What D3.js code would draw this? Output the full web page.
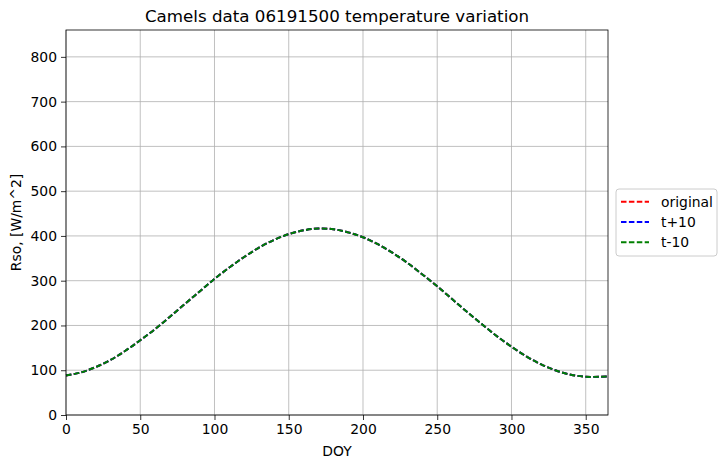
<!DOCTYPE html>
<html lang="en">
  <head>
    <meta charset="UTF-8" />
    <title>Camels data 06191500 temperature variation</title>
    <style>
      body { margin: 0; background: #fff; }
      svg { font-family: "DejaVu Sans", sans-serif; }
    </style>
  </head>
  <body>
    <svg width="727" height="468"></svg>

    <script src="https://d3js.org/d3.v7.min.js"></script>
    <script>
      (function () {
        "use strict";

        // day of year
        var doy = [0, 10, 20, 30, 40, 50, 60, 70, 80, 90, 100, 110, 120, 130, 140, 150,
          160, 170, 180, 190, 200, 210, 220, 230, 240, 250, 260, 270, 280, 290, 300,
          310, 320, 330, 340, 350, 360, 365];

        // Rso [W/m^2] (the three series overlap)
        var rsoOriginal = [88, 95, 107, 123, 143.5, 167, 192, 219.5, 248, 276, 304, 329.5,
          353, 374, 391, 404, 412.5, 416.5, 415, 408, 397, 381.5, 362, 339.5, 314, 287.5,
          259, 230.5, 203, 176.5, 152.5, 131, 113, 99.5, 90, 85.5, 85.5, 86];
        var rsoPlus10 = rsoOriginal;
        var rsoMinus10 = rsoOriginal;

        var seriesNames = ["original", "t+10", "t-10"];
        var seriesColors = ["#ff0000", "#0000ff", "#008000"];
        var seriesValues = [rsoOriginal, rsoPlus10, rsoMinus10];

        var xTicks = [0, 50, 100, 150, 200, 250, 300, 350];
        var yTicks = [0, 100, 200, 300, 400, 500, 600, 700, 800];

        var left = 66, right = 608, top = 30, bottom = 415;

        var svg = d3.select("svg");

        var x = d3.scaleLinear().domain([0, 365]).range([left, right]);
        var y = d3.scaleLinear().domain([0, 860]).range([bottom, top]);

        // grid
        var grid = svg.append("g");
        grid.selectAll(".gx").data(xTicks).enter().append("line")
          .attr("x1", function (d) { return x(d); })
          .attr("x2", function (d) { return x(d); })
          .attr("y1", top).attr("y2", bottom)
          .attr("stroke", "#b0b0b0").attr("stroke-width", 0.8);
        grid.selectAll(".gy").data(yTicks).enter().append("line")
          .attr("y1", function (d) { return y(d); })
          .attr("y2", function (d) { return y(d); })
          .attr("x1", left).attr("x2", right)
          .attr("stroke", "#b0b0b0").attr("stroke-width", 0.8);

        // lines
        var line = d3.line()
          .x(function (d) { return x(d[0]); })
          .y(function (d) { return y(d[1]); })
          .curve(d3.curveCatmullRom);

        seriesValues.forEach(function (vals, i) {
          svg.append("path")
            .datum(d3.zip(doy, vals))
            .attr("d", line)
            .attr("fill", "none")
            .attr("stroke", seriesColors[i])
            .attr("stroke-width", 2)
            .attr("stroke-dasharray", "5.5,2.4");
        });

        // axes
        var xAxis = svg.append("g")
          .attr("transform", "translate(0," + bottom + ")")
          .call(d3.axisBottom(x).tickValues(xTicks).tickSize(5).tickPadding(4));
        var yAxis = svg.append("g")
          .attr("transform", "translate(" + left + ",0)")
          .call(d3.axisLeft(y).tickValues(yTicks).tickSize(5).tickPadding(4));
        [xAxis, yAxis].forEach(function (a) {
          a.select(".domain").remove();
          a.selectAll("text").attr("font-size", 13.9).attr("fill", "#000")
            .attr("font-family", "DejaVu Sans");
          a.selectAll("line").attr("stroke", "#000").attr("stroke-width", 0.8);
        });

        // frame
        svg.append("rect")
          .attr("x", left).attr("y", top)
          .attr("width", right - left).attr("height", bottom - top)
          .attr("fill", "none").attr("stroke", "#000").attr("stroke-width", 0.8);

        // title and labels
        svg.append("text")
          .attr("x", (left + right) / 2).attr("y", 22)
          .attr("text-anchor", "middle").attr("font-size", 16.7)
          .text("Camels data 06191500 temperature variation");
        svg.append("text")
          .attr("x", (left + right) / 2).attr("y", 456)
          .attr("text-anchor", "middle").attr("font-size", 13.9)
          .text("DOY");
        svg.append("text")
          .attr("transform", "translate(21," + (top + bottom) / 2 + ") rotate(-90)")
          .attr("text-anchor", "middle").attr("font-size", 13.9)
          .text("Rso, [W/m^2]");

        // legend
        var lg = svg.append("g").attr("transform", "translate(616,189)");
        lg.append("rect")
          .attr("width", 101).attr("height", 67).attr("rx", 3)
          .attr("fill", "#fff").attr("fill-opacity", 0.8)
          .attr("stroke", "#cccccc").attr("stroke-width", 1);
        seriesNames.forEach(function (name, i) {
          var yy = 12.7 + i * 20.3;
          lg.append("line")
            .attr("x1", 5).attr("x2", 33).attr("y1", yy).attr("y2", yy)
            .attr("stroke", seriesColors[i]).attr("stroke-width", 2)
            .attr("stroke-dasharray", "5.5,2.4");
          lg.append("text")
            .attr("x", 45).attr("y", yy + 5)
            .attr("font-size", 13.9)
            .text(name);
        });
      })();
    </script>
  </body>
</html>
